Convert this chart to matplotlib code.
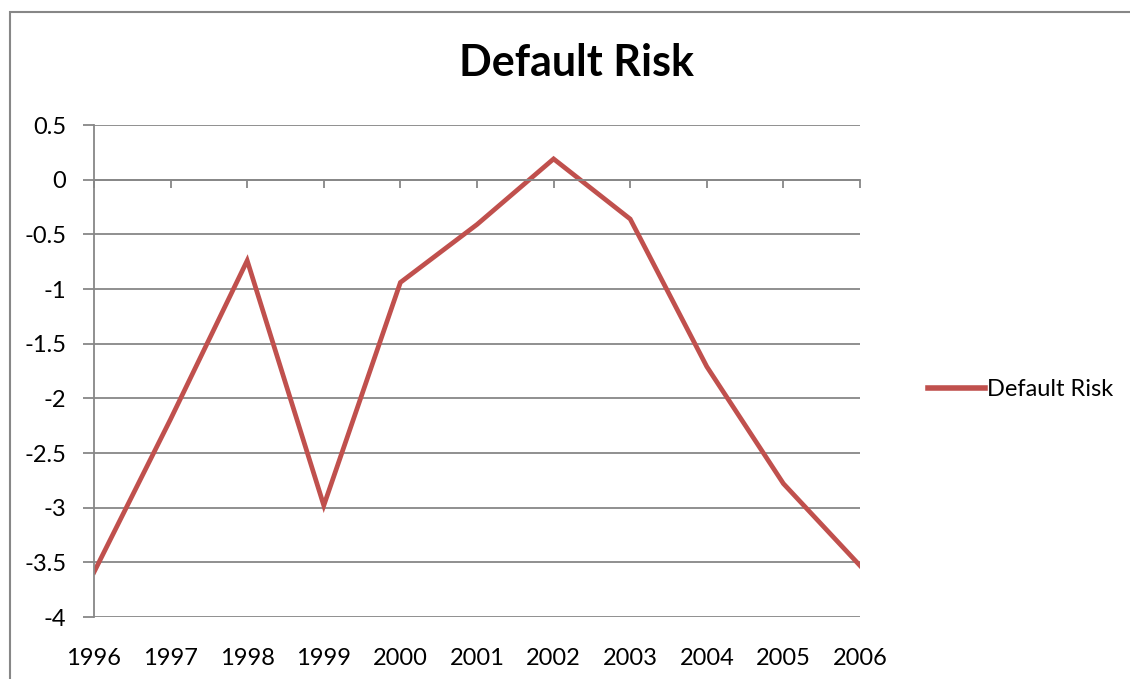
import matplotlib.pyplot as plt
from matplotlib.patches import Rectangle

years = [1996, 1997, 1998, 1999, 2000, 2001, 2002, 2003, 2004, 2005, 2006]
default_risk = [-3.59, -2.19, -0.74, -2.98, -0.94, -0.41, 0.19, -0.36, -1.71, -2.78, -3.53]
y_ticks = [0.5, 0, -0.5, -1, -1.5, -2, -2.5, -3, -3.5, -4]
y_labels = ["0.5", "0", "-0.5", "-1", "-1.5", "-2", "-2.5", "-3", "-3.5", "-4"]

plt.rcParams["font.family"] = ["Lato", "DejaVu Sans"]
grey = "#878787"
red = "#C0504D"

fig = plt.figure(figsize=(11.3, 6.79), dpi=100)
ax = fig.add_axes([94 / 1130, 1 - 617 / 679, (860 - 94) / 1130, (617 - 125) / 679])

# outer chart frame (runs off the right and bottom edges)
fig.patches.append(Rectangle((10 / 1130, -0.2), 2, 1.2 - 12 / 679, transform=fig.transFigure,
                             fill=False, edgecolor=grey, linewidth=1.5))

ax.plot(years, default_risk, color=red, linewidth=3.4, solid_joinstyle="miter",
        label="Default Risk")

ax.set_xlim(years[0], years[-1])
ax.set_ylim(-4, 0.5)
ax.set_yticks(y_ticks)
ax.set_yticklabels(y_labels)
ax.yaxis.grid(True, color=grey, linewidth=1.3)
ax.set_axisbelow(True)

for side in ["top", "right"]:
    ax.spines[side].set_visible(False)
ax.spines["left"].set_color(grey)
ax.spines["left"].set_linewidth(1.3)
ax.spines["bottom"].set_position(("data", 0))
ax.spines["bottom"].set_color(grey)
ax.spines["bottom"].set_linewidth(1.3)

ax.set_xticks(years)
ax.tick_params(axis="x", direction="out", length=6, width=1.3, color=grey, labelbottom=False)
ax.tick_params(axis="y", direction="out", length=8, width=1.3, color=grey, labelsize=17, pad=12)

# year labels at the bottom of the plot area
sec = ax.secondary_xaxis("bottom")
sec.set_xticks(years)
sec.set_xticklabels([str(y) for y in years])
sec.tick_params(length=0, labelsize=17, pad=22)
sec.spines["bottom"].set_visible(False)

fig.text(576 / 1130, 1 - 63 / 679, "Default Risk", fontsize=31, fontweight="bold",
         ha="center", va="center")

leg = fig.legend(loc="center left", bbox_to_anchor=(928 / 1130, 1 - 390 / 679), frameon=False,
                 fontsize=17, handlelength=2.4, handletextpad=0.1, borderpad=0, borderaxespad=0)
leg.get_lines()[0].set_linewidth(4)

fig.savefig("out.png", dpi=100)
